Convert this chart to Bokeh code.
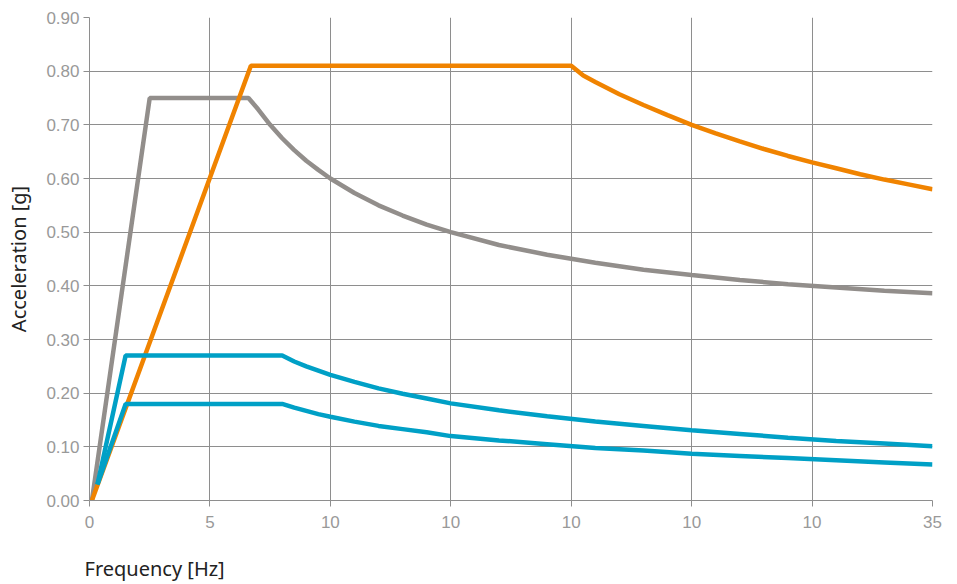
from bokeh.plotting import figure
from bokeh.models import Range1d, FixedTicker, NumeralTickFormatter, Title, LinearAxis
from bokeh.embed import file_html
from bokeh.resources import INLINE

# ---- data ----
gray_f = [0.1, 2.5, 6.6, 7, 7.5, 8, 8.5, 9, 9.5, 10, 11, 12, 13, 14, 15, 17, 19, 21, 23, 25, 27, 29, 31, 33, 35]
gray_a = [0.0, 0.75, 0.75, 0.729, 0.70, 0.675, 0.653, 0.633, 0.616, 0.60, 0.573, 0.55, 0.531, 0.514,
          0.50, 0.476, 0.458, 0.443, 0.430, 0.42, 0.411, 0.403, 0.397, 0.391, 0.386]

orange_f = [0.1, 6.7, 20, 20.5, 21, 22, 23, 24, 25, 26, 27, 28, 29, 30, 31, 32, 33, 34, 35]
orange_a = [0.0, 0.81, 0.81, 0.792, 0.78, 0.757, 0.737, 0.718, 0.70, 0.684, 0.669, 0.655, 0.642,
            0.63, 0.619, 0.608, 0.598, 0.589, 0.58]

blue_hi_f = [0.33, 1.5, 8, 8.5, 9, 9.5, 10, 11, 12, 13, 14, 15, 17, 19, 21, 23, 25, 27, 29, 31, 33, 35]
blue_hi_a = [0.03, 0.27, 0.27, 0.259, 0.25, 0.242, 0.234, 0.221, 0.209, 0.199, 0.19, 0.181, 0.168,
             0.157, 0.147, 0.139, 0.131, 0.124, 0.117, 0.111, 0.106, 0.101]

blue_lo_f = [0.33, 1.5, 8, 8.5, 9, 9.5, 10, 11, 12, 13, 14, 15, 17, 19, 21, 23, 25, 27, 29, 31, 33, 35]
blue_lo_a = [0.03, 0.18, 0.18, 0.173, 0.167, 0.161, 0.156, 0.147, 0.139, 0.133, 0.127, 0.12, 0.112,
             0.105, 0.098, 0.093, 0.087, 0.083, 0.079, 0.075, 0.071, 0.067]

x_ticks = [0, 5, 10, 15, 20, 25, 30, 35]
x_tick_labels = ["0", "5", "10", "10", "10", "10", "10", "35"]
y_ticks = [0.0, 0.1, 0.2, 0.3, 0.4, 0.5, 0.6, 0.7, 0.8, 0.9]

GRID = "#8e8e8e"
TICKTXT = "#999999"
LABEL_FONT = "Noto Sans"

p = figure(width=957, height=584, output_backend="svg", toolbar_location=None,
           x_range=Range1d(0, 35), y_range=Range1d(0, 0.9),
           min_border_left=89, min_border_right=25, min_border_top=17, min_border_bottom=84)
p.outline_line_color = None
p.background_fill_color = "white"
p.border_fill_color = "white"

for g in (p.xgrid, p.ygrid):
    g.grid_line_color = GRID
    g.grid_line_width = 1
p.xgrid.ticker = FixedTicker(ticks=x_ticks)
p.ygrid.ticker = FixedTicker(ticks=y_ticks)

p.xaxis.ticker = FixedTicker(ticks=x_ticks)
p.xaxis.major_label_overrides = {t: l for t, l in zip(x_ticks, x_tick_labels)}
p.yaxis.ticker = FixedTicker(ticks=y_ticks)
p.yaxis.formatter = NumeralTickFormatter(format="0.00")

for ax in (p.xaxis, p.yaxis):
    ax.axis_line_color = GRID
    ax.major_tick_line_color = GRID
    ax.major_tick_out = 6
    ax.major_tick_in = 0
    ax.minor_tick_line_color = None
    ax.major_label_text_color = TICKTXT
    ax.major_label_text_font = "Liberation Sans"
    ax.major_label_text_font_size = "17px"
    ax.axis_label_text_font = LABEL_FONT
    ax.axis_label_text_font_size = "20px"
    ax.axis_label_text_font_style = "normal"
    ax.axis_label_text_color = "#222222"

p.xaxis.major_label_standoff = 9
p.yaxis.major_label_standoff = 4
p.yaxis.axis_label = "Acceleration [g]"
p.yaxis.axis_label_standoff = 11

# invisible spacer axis that only reserves room between the tick labels and the x title
spacer = LinearAxis(ticker=FixedTicker(ticks=[0]), axis_line_color=None,
                    major_tick_line_color=None, minor_tick_line_color=None,
                    major_tick_out=22, major_tick_in=0, minor_tick_out=0,
                    major_label_standoff=0, major_label_overrides={0: ""},
                    major_label_text_font_size="1px")
p.add_layout(spacer, "below")

xt = Title(text="Frequency [Hz]", align="left", vertical_align="bottom",
           text_font=LABEL_FONT, text_font_size="20px", text_font_style="normal",
           text_color="#222222", standoff=0, offset=-5)
p.add_layout(xt, "below")

LW = 4.5
p.line(gray_f, gray_a, line_color="#928e8b", line_width=LW)
p.line(orange_f, orange_a, line_color="#f08300", line_width=LW)
p.line(blue_hi_f, blue_hi_a, line_color="#00a0c6", line_width=LW)
p.line(blue_lo_f, blue_lo_a, line_color="#00a0c6", line_width=LW)

open("out.html", "w").write(file_html(p, INLINE))
